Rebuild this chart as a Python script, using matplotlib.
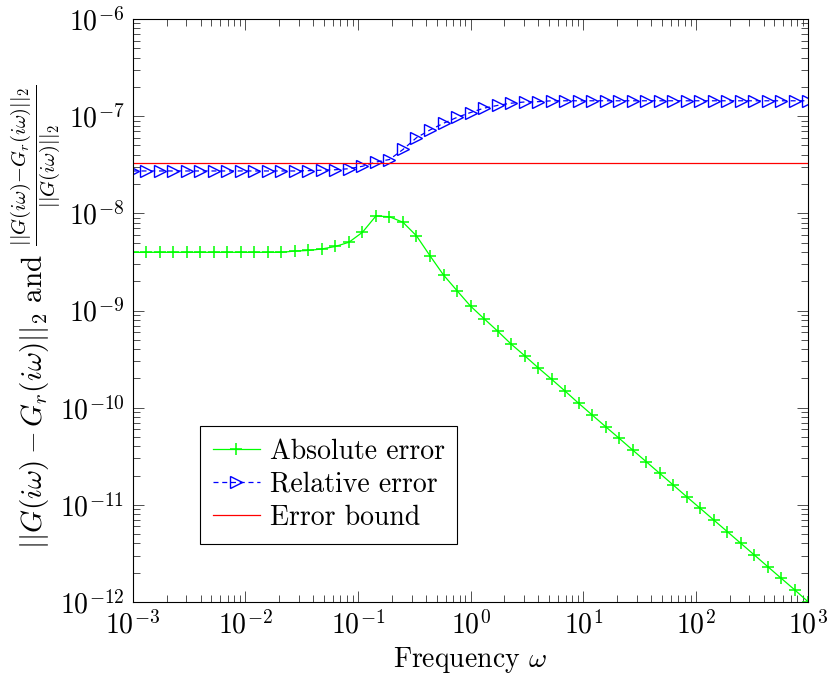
import numpy as np
import matplotlib
matplotlib.use("Agg")
import matplotlib.pyplot as plt
from matplotlib.ticker import LogLocator, NullFormatter

plt.rcParams["font.family"] = "serif"
plt.rcParams["font.serif"] = ["cmr10"]
plt.rcParams["mathtext.fontset"] = "cm"
plt.rcParams["axes.formatter.use_mathtext"] = True
plt.rcParams["axes.unicode_minus"] = False
plt.rcParams["font.size"] = 20

# frequency grid (log10 of omega), 51 points from 1e-3 to 1e3
log_freq = [-3.00, -2.88, -2.76, -2.64, -2.52, -2.40, -2.28, -2.16, -2.04, -1.92,
            -1.80, -1.68, -1.56, -1.44, -1.32, -1.20, -1.08, -0.96, -0.84, -0.72,
            -0.60, -0.48, -0.36, -0.24, -0.12, 0.00, 0.12, 0.24, 0.36, 0.48,
            0.60, 0.72, 0.84, 0.96, 1.08, 1.20, 1.32, 1.44, 1.56, 1.68,
            1.80, 1.92, 2.04, 2.16, 2.28, 2.40, 2.52, 2.64, 2.76, 2.88, 3.00]

abs_err = [3.97e-9, 3.97e-9, 3.97e-9, 3.97e-9, 3.97e-9, 3.97e-9, 3.97e-9, 3.97e-9,
           3.97e-9, 3.97e-9, 3.97e-9, 3.97e-9, 4.09e-9, 4.15e-9, 4.30e-9, 4.56e-9,
           5.04e-9, 6.38e-9, 9.40e-9, 9.23e-9, 8.09e-9, 5.87e-9, 3.66e-9, 2.32e-9,
           1.60e-9, 1.11e-9, 8.24e-10, 6.15e-10, 4.52e-10, 3.43e-10, 2.58e-10,
           1.96e-10, 1.48e-10, 1.11e-10, 8.41e-11, 6.37e-11, 4.84e-11, 3.66e-11,
           2.78e-11, 2.11e-11, 1.60e-11, 1.21e-11, 9.20e-12, 6.98e-12, 5.30e-12,
           4.02e-12, 3.05e-12, 2.31e-12, 1.75e-12, 1.33e-12, 1.00e-12]

rel_err = [2.73e-8, 2.73e-8, 2.73e-8, 2.73e-8, 2.73e-8, 2.73e-8, 2.73e-8, 2.73e-8,
           2.73e-8, 2.73e-8, 2.73e-8, 2.73e-8, 2.73e-8, 2.75e-8, 2.78e-8, 2.81e-8,
           2.88e-8, 3.05e-8, 3.37e-8, 3.58e-8, 4.54e-8, 6.00e-8, 7.21e-8, 8.45e-8,
           9.72e-8, 1.09e-7, 1.21e-7, 1.29e-7, 1.36e-7, 1.40e-7, 1.41e-7,
           1.44e-7, 1.44e-7, 1.44e-7, 1.44e-7, 1.44e-7, 1.44e-7, 1.44e-7, 1.44e-7,
           1.44e-7, 1.44e-7, 1.44e-7, 1.44e-7, 1.44e-7, 1.44e-7, 1.44e-7, 1.44e-7,
           1.44e-7, 1.44e-7, 1.44e-7, 1.44e-7]

err_bound = 3.30e-8

freq = 10 ** np.array(log_freq)

fig = plt.figure(figsize=(8.3, 6.84), dpi=100)
ax = fig.add_axes([0.1599, 0.1199, 0.8140, 0.8523])

ax.plot(freq, abs_err, color=(0, 1, 0), lw=0.9, marker='+', ms=8, mew=1.1,
        label='Absolute error')
ax.plot(freq, rel_err, color=(0, 0, 1), lw=0.9, ls=(0, (4, 3)), marker='>', ms=8,
        mfc='none', mew=1.0, label='Relative error')
ax.axhline(err_bound, color=(1, 0, 0), lw=0.9, label='Error bound')

ax.set_xscale('log')
ax.set_yscale('log')
ax.set_xlim(1e-3, 1e3)
ax.set_ylim(1e-12, 1e-6)

ax.xaxis.set_major_locator(LogLocator(base=10, numticks=20))
ax.yaxis.set_major_locator(LogLocator(base=10, numticks=20))
ax.xaxis.set_minor_locator(LogLocator(base=10, subs=np.arange(2, 10), numticks=100))
ax.yaxis.set_minor_locator(LogLocator(base=10, subs=np.arange(2, 10), numticks=100))
ax.xaxis.set_minor_formatter(NullFormatter())
ax.yaxis.set_minor_formatter(NullFormatter())

ax.tick_params(which='both', direction='in', top=True, right=True, width=0.6,
               color='#333333')
ax.tick_params(which='major', length=8, pad=6)
ax.tick_params(which='minor', length=5)
for s in ax.spines.values():
    s.set_linewidth(0.8)

ax.set_xlabel(r'Frequency $\omega$', labelpad=4)
ax.set_ylabel(r'$||G(i\omega) - G_r(i\omega)||_2$ and '
              r'$\frac{||G(i\omega){-}G_r(i\omega)||_2}{||G(i\omega)||_2}$',
              fontsize=21, labelpad=-3)
ax.yaxis.label.set_y(0.49)

leg = ax.legend(loc='lower left', bbox_to_anchor=(0.1, 0.1), fancybox=False,
                framealpha=1, edgecolor='black', handlelength=1.7,
                labelspacing=0.25, borderpad=0.45, handletextpad=0.35,
                borderaxespad=0)
leg.get_frame().set_linewidth(0.8)

fig.savefig('out.png', dpi=100)
